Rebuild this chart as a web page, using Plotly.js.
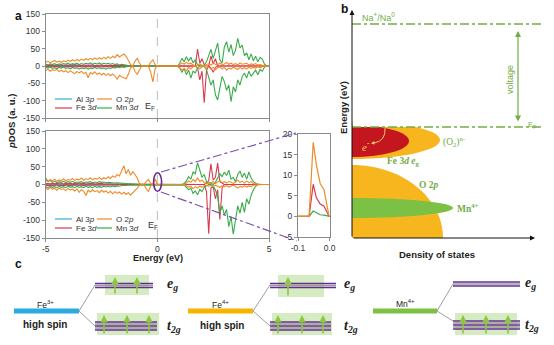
<!DOCTYPE html>
<html><head><meta charset="utf-8">
<script src="https://cdn.plot.ly/plotly-3.0.1.min.js"></script>
<style>html,body{margin:0;padding:0;background:#fff}#chart{width:554px;height:345px}</style>
</head><body><div id="chart"></div>
<script>
// ---------------- DATA ----------------
const energy = [-5.0,-4.9,-4.8,-4.7,-4.6,-4.5,-4.4,-4.3,-4.2,-4.1,
 -4.0,-3.9,-3.8,-3.7,-3.6,-3.5,-3.4,-3.3,-3.2,-3.1,
 -3.0,-2.9,-2.8,-2.7,-2.6,-2.5,-2.4,-2.3,-2.2,-2.1,
 -2.0,-1.9,-1.8,-1.7,-1.6,-1.5,-1.4,-1.3,-1.2,-1.1,
 -1.0,-0.9,-0.8,-0.7,-0.6,-0.5,-0.4,-0.3,-0.2,-0.1,
 0.0,
 0.1,0.2,0.3,0.4,0.5,0.6,0.7,0.8,0.9,1.0,
 1.1,1.2,1.3,1.4,1.5,1.6,1.7,1.8,1.9,2.0,
 2.1,2.2,2.3,2.4,2.5,2.6,2.7,2.8,2.9,3.0,
 3.1,3.2,3.3,3.4,3.5,3.6,3.7,3.8,3.9,4.0,
 4.1,4.2,4.3,4.4,4.5,4.6,4.7,4.8,4.9,5.0];
const valenceEnergy = [-5.0,-4.9,-4.8,-4.7,-4.6,-4.5,-4.4,-4.3,-4.2,-4.1,
 -4.0,-3.9,-3.8,-3.7,-3.6,-3.5,-3.4,-3.3,-3.2,-3.1,
 -3.0,-2.9,-2.8,-2.7,-2.6,-2.5,-2.4,-2.3,-2.2,-2.1,
 -2.0,-1.9,-1.8,-1.7,-1.6,-1.5,-1.4,-1.3,-1.2,-1.1,-1.0];

// top panel
const topO2pUp = [10,14,9,13,16,11,14,10,15,12, 17,13,18,14,19,15,20,16,21,17, 22,18,23,19,24,20,25,21,27,22,
 28,24,33,26,30,35,28,18,4,0, 14,22,8,0,0,0,0,10,18,4, 0,
 0,0,0,0,0,0,0,0,0,4, 9,5,11,6,8,3,0,3,6,2, 0,4,7,3,8,5,3,9,4,6, 10,5,8,4,7,3,9,5,6,8, 3,6,4,7,3,4,2,0,0,0];
const topO2pDown = [-14,-9,-15,-11,-13,-10,-16,-12,-17,-13, -19,-14,-18,-22,-16,-20,-15,-22,-18,-34, -19,-23,-17,-24,-20,-26,-21,-27,-22,-28,
 -23,-29,-38,-27,-31,-35,-37,-24,-6,0, -16,-24,-10,0,0,0,0,-18,-46,-8, 0,
 0,0,0,0,0,0,0,0,0,-5, -12,-7,-14,-4,-9,-2,0,-4,-8,-3, 0,-6,-3,-9,-4,-11,-5,-3,-8,-4, -12,-6,-9,-3,-7,-10,-4,-8,-5,-9, -3,-7,-4,-6,-2,-5,-2,0,0,0];
const topMn3dUp = [5,3,6,4,7,3,6,4,7,5, 8,4,7,5,8,4,7,5,8,6, 9,5,8,6,9,5,8,6,8,5,
 7,4,6,3,5,3,2,1,0,0, 0,0,0,0,0,0,0,0,0,0, 0,
 0,0,0,0,0,0,0,0,0,8, 22,12,27,15,25,9,18,4,0,0, 3,12,30,48,22,45,66,18,8,55, 70,40,62,30,45,80,52,60,30,38, 18,35,15,28,12,25,20,5,0,0];
const topMn3dDown = [-4,-6,-3,-7,-5,-8,-4,-6,-3,-7, -5,-8,-4,-7,-5,-9,-6,-8,-5,-9, -6,-8,-4,-7,-5,-8,-6,-9,-5,-7,
 -4,-6,-3,-5,-2,-4,-2,-1,0,0, 0,0,0,0,0,0,0,0,0,0, 0,
 0,0,0,0,0,0,0,0,0,-6, -18,-8,-25,-12,-35,-15,-20,-5,0,0, -2,-10,-30,-55,-40,-83,-98,-60,-30,-45, -70,-55,-103,-60,-75,-40,-55,-30,-20,-35, -15,-30,-20,-12,-25,-10,-15,-3,0,0];
const topFe3dUp = [2,3,1,3,2,4,2,3,1,3, 2,3,2,4,2,3,1,3,2,3, 2,3,1,2,2,3,1,2,1,2,
 1,2,1,1,1,1,0,0,0,0, 0,0,0,0,0,0,0,0,0,0, 0,
 0,0,0,0,0,0,0,0,0,0, 0,0,0,0,0,0,0,49,8,21, 4,0,0,29,6,21,0,0,0,0, 0,0,0,0,0,0,0,0,0,0, 0,0,0,0,0,0,0,0,0,0];
const topFe3dDown = [-2,-1,-3,-2,-3,-1,-2,-3,-2,-3, -1,-2,-3,-2,-3,-1,-2,-3,-1,-2, -2,-3,-1,-2,-2,-3,-1,-2,-1,-2,
 -1,-1,-1,-1,0,-1,0,0,0,0, 0,0,0,0,0,0,0,0,0,0, 0,
 0,0,0,0,0,0,0,0,0,0, 0,0,0,0,0,0,0,-5,-40,-15, -106,-12,0,-6,-18,-4,0,0,0,0, 0,0,0,0,0,0,0,0,0,0, 0,0,0,0,0,0,0,0,0,0];
const topAl3pUp = [1,2,1,2,1,2,1,1,2,1, 2,1,2,1,2,1,1,2,1,2, 1,2,1,1,2,1,2,1,1,2, 1,1,1,0,1,0,0,0,0,0, 0];
const topAl3pDown = [-1,-2,-1,-1,-2,-1,-2,-1,-1,-2, -1,-2,-1,-2,-1,-1,-2,-1,-2,-1, -2,-1,-1,-2,-1,-2,-1,-1,-2,-1, -1,-1,0,-1,0,0,0,0,0,0, 0];

// bottom panel
const botO2pUp = [12,8,14,10,15,9,13,11,16,10, 14,12,17,11,15,13,18,12,16,14, 19,13,17,15,20,14,19,16,22,17,
 24,20,28,24,38,53,30,42,26,36, 28,18,2,0,0,8,14,3,0,16, 0,
 0,0,0,0,0,0,0,0,0,0, 0,0,4,10,6,14,8,18,9,12, 5,3,6,4,8,3,7,10,5,8, 4,9,6,3,7,12,6,9,4,10, 5,8,3,2,0,0,0,0,0,0];
const botO2pDown = [-10,-14,-8,-13,-11,-16,-10,-14,-12,-17, -11,-15,-13,-18,-12,-22,-14,-19,-31,-16, -21,-15,-20,-17,-23,-16,-21,-18,-24,-19,
 -26,-20,-25,-21,-27,-22,-28,-23,-30,-24, -18,-10,-2,0,0,-12,-20,-4,0,0, 0,
 0,0,0,0,0,0,0,0,0,0, 0,0,-3,-8,-5,-12,-6,-10,-4,-8, -3,-2,-5,-3,-6,-2,-5,-8,-4,-6, -3,-7,-4,-2,-6,-10,-5,-8,-3,-7, -4,-6,-2,-1,0,0,0,0,0,0];
const botMn3dUp = [18,9,11,6,9,5,8,6,9,5, 8,6,9,5,7,6,8,5,7,6, 8,5,7,5,8,6,7,5,6,5,
 6,4,5,4,4,3,3,2,2,1, 1,0,0,0,0,0,0,0,0,0, 0,
 0,0,0,0,0,0,0,0,0,0, 0,3,10,22,15,35,30,61,42,20, 28,8,0,4,0,6,18,30,22,35, 25,40,15,20,8,28,38,20,32,15, 35,18,8,3,0,0,0,0,0,0];
const botMn3dDown = [-6,-9,-5,-8,-6,-9,-5,-8,-6,-9, -5,-8,-6,-9,-5,-8,-6,-9,-5,-8, -6,-9,-5,-8,-6,-8,-5,-7,-5,-7,
 -4,-6,-4,-5,-3,-4,-3,-2,-2,-1, -1,0,0,0,0,0,0,0,0,0, 0,
 0,0,0,0,0,0,0,0,0,0, 0,-2,-8,-15,-10,-25,-18,-29,-14,-20, -8,-3,0,0,-5,-15,-35,-80,-60,-85, -70,-118,-90,-139,-95,-60,-80,-50,-78,-40, -55,-30,-15,-5,0,0,0,0,0,0];
const botFe3dUp = [2,3,1,3,2,3,2,4,1,3, 2,3,1,3,2,4,2,3,1,2, 2,3,1,2,2,3,1,2,1,2,
 1,2,1,1,1,1,0,0,0,0, 0,0,0,0,0,0,0,0,0,0, 0,
 0,0,0,0,0,0,0,0,0,0, 0,0,0,0,0,0,0,0,0,0, 0,5,10,58,12,20,60,8,3,0, 0,0,0,0,0,0,0,0,0,0, 0,0,0,0,0,0,0,0,0,0];
const botFe3dDown = [-1,-3,-2,-3,-1,-2,-3,-2,-3,-1, -2,-3,-1,-2,-3,-2,-1,-3,-2,-2, -1,-3,-2,-2,-1,-2,-2,-1,-2,-1,
 -1,-1,-1,0,-1,0,0,0,0,0, 0,0,0,0,0,0,0,0,0,0, 0,
 0,0,0,0,0,0,0,0,0,0, 0,0,0,0,0,0,0,0,0,0, 0,-20,-138,-10,-5,-40,-15,-98,-10,0, 0,0,0,0,0,0,0,0,0,0, 0,0,0,0,0,0,0,0,0,0];
const botAl3pUp = [1,1,2,1,2,1,1,2,1,2, 1,1,2,1,2,1,2,1,1,2, 1,2,1,1,2,1,1,2,1,1, 1,1,0,1,0,0,0,0,0,0, 0];
const botAl3pDown = [-1,-2,-1,-2,-1,-1,-2,-1,-2,-1, -1,-2,-1,-1,-2,-1,-2,-1,-1,-2, -1,-1,-2,-1,-1,-2,-1,-1,-1,-1, -1,0,-1,0,0,0,0,0,0,0, 0];

// inset (zoom near Fermi level)
const insetEnergy = [-0.1,-0.065,-0.052,-0.042,-0.03,-0.018,-0.002,0.0];
const insetO2p = [0,0,18,12.5,8,6.5,0,0];
const insetFe3d = [0,0,7.8,4.5,3,2.5,0,0];
const insetMn3d = [0,0,1.3,0.8,0.4,0.3,0,0];

// tick labels
const dosTickVals = [150,100,50,0,-50,-100,-150];
const dosTickText = ['150','100','50','0','-50','-100','-150'];
const energyTickVals = [-5,0,5];
const energyTickText = ['-5','0','5'];
const insetYTickVals = [20,15,10,5,0,-5];
const insetYTickText = ['20','15','10','5','0','-5'];
const insetXTickVals = [-0.1,0.0];
const insetXTickText = ['-0.1','0.0'];
const legendNames = ['Al 3<i>p</i>','O 2<i>p</i>','Fe 3<i>d</i>','Mn 3<i>d</i>'];

// ---------------- DRAWING ----------------
const W=554,H=345;
const fx=p=>p/W, fy=p=>1-p/H;
const COL={al:'#2fa8dc', o:'#f08a26', fe:'#d73a50', mn:'#3aab4a'};
const GREEN='#72ad44', PURPLE='#662d91';
const SANS='Liberation Sans, Arial, sans-serif', SERIF='Liberation Serif, Times New Roman, serif';

function tr(x,y,color,xa,ya,w){return {x:x,y:y,type:'scatter',mode:'lines',line:{color:color,width:w||1.1},xaxis:xa,yaxis:ya,hoverinfo:'skip',showlegend:false};}
const data=[
 tr(valenceEnergy,topAl3pUp,COL.al,'x','y'), tr(valenceEnergy,topAl3pDown,COL.al,'x','y'),
 tr(energy,topFe3dUp,COL.fe,'x','y'), tr(energy,topFe3dDown,COL.fe,'x','y'),
 tr(energy,topMn3dUp,COL.mn,'x','y'), tr(energy,topMn3dDown,COL.mn,'x','y'),
 tr(energy,topO2pUp,COL.o,'x','y'), tr(energy,topO2pDown,COL.o,'x','y'),
 tr(valenceEnergy,botAl3pUp,COL.al,'x2','y2'), tr(valenceEnergy,botAl3pDown,COL.al,'x2','y2'),
 tr(energy,botFe3dUp,COL.fe,'x2','y2'), tr(energy,botFe3dDown,COL.fe,'x2','y2'),
 tr(energy,botMn3dUp,COL.mn,'x2','y2'), tr(energy,botMn3dDown,COL.mn,'x2','y2'),
 tr(energy,botO2pUp,COL.o,'x2','y2'), tr(energy,botO2pDown,COL.o,'x2','y2'),
 tr(insetEnergy,insetMn3d,COL.mn,'x3','y3',1.2), tr(insetEnergy,insetFe3d,COL.fe,'x3','y3',1.2), tr(insetEnergy,insetO2p,COL.o,'x3','y3',1.2)
];

const frame={showline:true,mirror:true,linecolor:'#8a8a8a',linewidth:1,zeroline:false,showgrid:false,ticks:'outside',ticklen:3,tickcolor:'#8a8a8a',tickfont:{size:8.5,color:'#333',family:SANS},fixedrange:true};
const layout={
 width:W,height:H,margin:{l:0,r:0,t:0,b:0},paper_bgcolor:'#fff',plot_bgcolor:'rgba(0,0,0,0)',showlegend:false,
 font:{family:SANS,size:8.5,color:'#333'},
 xaxis:Object.assign({},frame,{domain:[fx(45.7),fx(269)],range:[-5,5],tickvals:energyTickVals,showticklabels:false,anchor:'y'}),
 yaxis:Object.assign({},frame,{domain:[fy(118),fy(14)],range:[-150,150],tickvals:dosTickVals,ticktext:dosTickText,anchor:'x'}),
 xaxis2:Object.assign({},frame,{domain:[fx(45.7),fx(269)],range:[-5,5],tickvals:energyTickVals,ticktext:energyTickText,anchor:'y2'}),
 yaxis2:Object.assign({},frame,{domain:[fy(238),fy(131)],range:[-150,150],tickvals:dosTickVals,ticktext:dosTickText,anchor:'x2'}),
 xaxis3:Object.assign({},frame,{domain:[fx(298),fx(330)],range:[-0.1,0.001],tickvals:insetXTickVals,ticktext:insetXTickText,anchor:'y3'}),
 yaxis3:Object.assign({},frame,{domain:[fy(237),fy(134)],range:[-5,20],tickvals:insetYTickVals,ticktext:insetYTickText,anchor:'x3'})
};

const P=(x,y)=>fx(x).toFixed(5)+','+fy(y).toFixed(5);
const K=0.5523;
function halfEll(cx,cy,rx,ry){return `M${P(cx,cy-ry)} C${P(cx+K*rx,cy-ry)} ${P(cx+rx,cy-K*ry)} ${P(cx+rx,cy)} C${P(cx+rx,cy+K*ry)} ${P(cx+K*rx,cy+ry)} ${P(cx,cy+ry)} Z`;}
function pathS(d,fill,line){return {type:'path',xref:'paper',yref:'paper',path:d,fillcolor:fill,line:line||{width:0},layer:'above'};}
function rect(x0,y0,x1,y1,fill){return {type:'rect',xref:'paper',yref:'paper',x0:fx(x0),x1:fx(x1),y0:fy(y1),y1:fy(y0),fillcolor:fill,line:{width:0},layer:'above'};}
function ln(x0,y0,x1,y1,color,width,dash){return {type:'line',xref:'paper',yref:'paper',x0:fx(x0),y0:fy(y0),x1:fx(x1),y1:fy(y1),line:{color:color,width:width,dash:dash||'solid'},layer:'above'};}

const shapes=[];
// E=0 dashed lines
shapes.push({type:'line',xref:'x',yref:'y',x0:0,x1:0,y0:-150,y1:150,line:{color:'#bdbdbd',width:1,dash:'dash'},layer:'below'});
shapes.push({type:'line',xref:'x2',yref:'y2',x0:0,x1:0,y0:-150,y1:150,line:{color:'#bdbdbd',width:1,dash:'dash'},layer:'below'});
// zoom ellipse + connectors
shapes.push({type:'circle',xref:'x2',yref:'y2',x0:-0.17,x1:0.19,y0:-19,y1:33,line:{color:PURPLE,width:1.6},layer:'above'});
shapes.push(ln(161,172,296,133,'#7a4fb0',1.2,'dashdot'));
shapes.push(ln(161,192,297,241,'#7a4fb0',1.2,'dashdot'));
// legends
[99,219].forEach(function(y){
  shapes.push(ln(55,y,72,y,COL.al,1.2)); shapes.push(ln(97,y,112,y,COL.o,1.2));
  shapes.push(ln(55,y+9,72,y+9,COL.fe,1.2)); shapes.push(ln(97,y+9,112,y+9,COL.mn,1.2));
});

// panel b
shapes.push(pathS(halfEll(352,140,88,19),'#f7b51e'));
shapes.push(pathS(halfEll(352,141,57,16),'#c3161e'));
shapes.push(rect(352.6,110,446,127,'#ffffff'));
shapes.push(pathS(`M${P(352,165)} C${P(352+K*91,165)} ${P(443,238-K*73)} ${P(443,238)} L${P(352,238)} Z`,'#f7b51e'));
shapes.push(pathS(halfEll(352,208,101,10),'#7cc143'));
shapes.push(ln(352,24,541,24,GREEN,1.5,'dashdot'));
shapes.push(ln(352,127,541,127,GREEN,1.5,'dashdot'));
shapes.push(pathS(`M${P(385,128)} Q${P(386,141)} ${P(374,143)}`,'rgba(0,0,0,0)',{color:'#f2c46a',width:1}));

// panel c
const BOX='rgba(190,224,160,0.65)', GRAYL='#a0a0a0', ARW='#8dc63f';
function levels(x0,x1,ys){
  for(let i=0;i<ys.length-1;i++) shapes.push(ln(x0,(ys[i]+ys[i+1])/2,x1,(ys[i]+ys[i+1])/2,'#9a9a9a',1.3));
  ys.forEach(y=>shapes.push(ln(x0,y,x1,y,PURPLE,1.6)));
}
// Fe3+
shapes.push(rect(105,275,149,295,BOX)); shapes.push(rect(97,313,159,335,BOX));
shapes.push(rect(14,308.5,79,313.5,'#29abe2'));
shapes.push(ln(79,311,95,285,GRAYL,1)); shapes.push(ln(79,311,95,326,GRAYL,1));
levels(95,153,[283.5,287.5]); levels(95,157,[322,326,330]);
// Fe4+
shapes.push(rect(278,275,324,297,BOX)); shapes.push(rect(272,313,332,335,BOX));
shapes.push(rect(188,308.5,253,313.5,'#f7b500'));
shapes.push(ln(253,311,270,285,GRAYL,1)); shapes.push(ln(253,311,270,326,GRAYL,1));
levels(270,336,[283.5,287.5]); levels(270,331,[322,326,330]);
// Mn4+
shapes.push(rect(455,313,517,335,BOX));
shapes.push(rect(373,308.5,437,313.5,'#7cc143'));
shapes.push(ln(437,311,453,284,GRAYL,1)); shapes.push(ln(437,311,453,321,GRAYL,1));
levels(453,520,[282,286]); levels(453,520,[321,325,329]);
layout.shapes=shapes;

// annotations
const ann=[];
function txt(x,y,t,o){ann.push(Object.assign({xref:'paper',yref:'paper',x:fx(x),y:fy(y),text:t,showarrow:false,xanchor:'center',yanchor:'middle',font:{family:SANS,size:8.5,color:'#222'}},o||{}));}
function arrow(x,y,ax,ay,color,w,o){ann.push(Object.assign({xref:'paper',yref:'paper',x:fx(x),y:fy(y),ax:ax,ay:ay,text:'',showarrow:true,arrowhead:2,arrowsize:1,arrowwidth:w,arrowcolor:color,standoff:0,startstandoff:0},o||{}));}

// legend text
[99,219].forEach(function(y){
  txt(74,y,legendNames[0],{xanchor:'left',font:{family:SANS,size:8,color:'#333'}});
  txt(114,y,legendNames[1],{xanchor:'left',font:{family:SANS,size:8,color:'#333'}});
  txt(74,y+9,legendNames[2],{xanchor:'left',font:{family:SANS,size:8,color:'#333'}});
  txt(114,y+9,legendNames[3],{xanchor:'left',font:{family:SANS,size:8,color:'#333'}});
});
txt(150,106,'E<sub>F</sub>',{font:{family:SANS,size:9,color:'#333'}});
txt(153,226,'E<sub>F</sub>',{font:{family:SANS,size:9,color:'#333'}});
txt(11,122,'<b><i>p</i>DOS (a. u.)</b>',{textangle:-90,font:{family:SANS,size:9.5,color:'#222'}});
txt(158,258,'<b>Energy (eV)</b>',{font:{family:SANS,size:9,color:'#222'}});
txt(18,16,'<b>a</b>',{font:{family:SANS,size:12,color:'#111'}});
txt(344,9,'<b>b</b>',{font:{family:SANS,size:12,color:'#111'}});
txt(18,264,'<b>c</b>',{font:{family:SANS,size:12,color:'#111'}});

// panel b
arrow(352,10,0,228,'#111',1);
arrow(535,238,-183,0,'#111',1);
arrow(518,31,0,92,GREEN,1.2,{arrowside:'end+start'});
arrow(371,143.5,5,-1,'#f2c46a',1,{arrowsize:0.7});
txt(378,17,'Na<sup>+</sup>/Na<sup>0</sup>',{font:{family:SANS,size:9,color:GREEN}});
txt(510,80,'voltage',{textangle:-90,font:{family:SANS,size:9,color:GREEN}});
txt(532,125,'E<sub>F</sub>',{font:{family:SANS,size:7.5,color:GREEN}});
txt(344,108,'<b>Energy (eV)</b>',{textangle:-90,font:{family:SANS,size:9.5,color:'#222'}});
txt(437,254,'<b>Density of states</b>',{font:{family:SANS,size:9.5,color:'#222'}});
txt(366,146,'<i>e</i><sup>-</sup>',{font:{family:SERIF,size:11,color:'#f2c46a'}});
txt(441,142,'(O<sub>2</sub>)<sup>n-</sup>',{xanchor:'left',font:{family:SERIF,size:9.5,color:GREEN}});
txt(403,162,'<b>Fe 3<i>d e</i><sub>g</sub></b>',{font:{family:SERIF,size:9.5,color:GREEN}});
txt(429,185,'<b>O 2<i>p</i></b>',{font:{family:SERIF,size:9.5,color:GREEN}});
txt(455,208,'<b>Mn<sup>4+</sup></b>',{xanchor:'left',font:{family:SERIF,size:9.5,color:GREEN}});

// panel c
const lvl={family:SERIF,size:14,color:'#222'};
txt(45,304,'Fe<sup>3+</sup>',{font:{family:SANS,size:8.5,color:'#222'}});
txt(45,324,'<b>high spin</b>',{font:{family:SANS,size:10,color:'#222'}});
txt(172,284,'<b><i>e<sub>g</sub></i></b>',{font:lvl});
txt(174,326,'<b><i>t<sub>2g</sub></i></b>',{font:lvl});
txt(220,304,'Fe<sup>4+</sup>',{font:{family:SANS,size:8.5,color:'#222'}});
txt(222,325,'<b>high spin</b>',{font:{family:SANS,size:10,color:'#222'}});
txt(349,284,'<b><i>e<sub>g</sub></i></b>',{font:lvl});
txt(351,326,'<b><i>t<sub>2g</sub></i></b>',{font:lvl});
txt(405,303,'Mn<sup>4+</sup>',{font:{family:SANS,size:8.5,color:'#222'}});
txt(530,283,'<b><i>e<sub>g</sub></i></b>',{font:lvl});
txt(532,325,'<b><i>t<sub>2g</sub></i></b>',{font:lvl});
// spin arrows
[[115,295,277],[137,295,277],[104,335,315],[127,335,315],[149,335,315],
 [288,297,277],[278,335,315],[302,335,315],[323,335,315],
 [463,335,315],[486,335,315],[508,335,315]].forEach(a=>arrow(a[0],a[2],0,a[1]-a[2],ARW,1.6,{arrowsize:0.9}));
layout.annotations=ann;

Plotly.newPlot('chart',data,layout,{staticPlot:true,displayModeBar:false});
</script></body></html>
